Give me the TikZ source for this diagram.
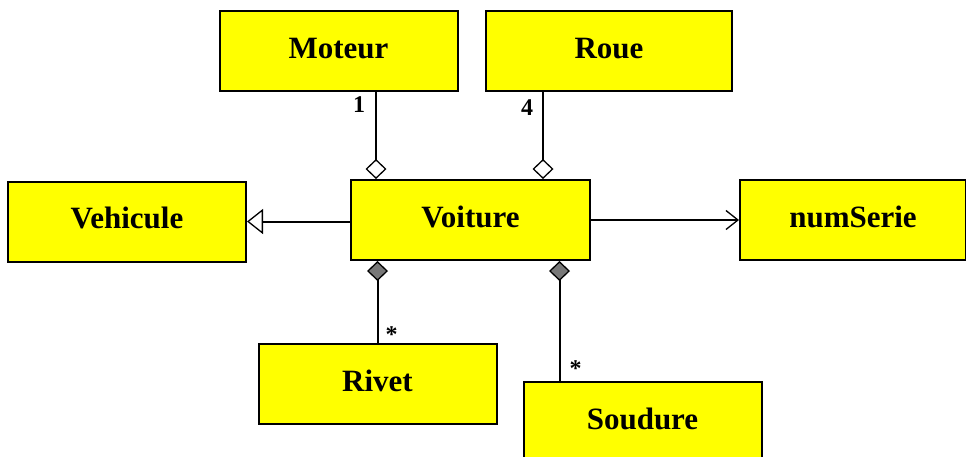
\documentclass[tikz,border=0pt]{standalone}
\usepackage{fontspec}
\setmainfont{Liberation Serif}
\usetikzlibrary{positioning, arrows.meta}
\definecolor{clsyellow}{RGB}{255,255,0}
\definecolor{diamgrey}{RGB}{120,120,120}
\definecolor{inkblack}{RGB}{0,0,0}

\begin{document}
\begin{tikzpicture}[
    x=1pt, y=-1pt,
    every node/.style={text=inkblack},
    cls/.style={draw=inkblack, line width=2pt, fill=clsyellow, minimum width=238pt, minimum height=80pt,
      inner sep=0pt, text height=21pt, text depth=7pt, font=\fontsize{31}{31}\selectfont\bfseries},
    mult/.style={inner sep=0pt, font=\fontsize{24}{24}\selectfont\bfseries},
    link/.style={draw=inkblack, line width=2pt},
    aggr/.style={link, -{Diamond[open, length=20pt, width=21pt, line width=1.3pt]}},
    comp/.style={link, -{Diamond[fill=diamgrey, length=20pt, width=21pt, line width=1.3pt]}},
    gen/.style={link, -{Triangle[open, length=16pt, width=25pt, line width=1.3pt]}},
    assoc/.style={link, -{Straight Barb[length=12pt, width=19pt, line width=1.3pt]}},
]
\useasboundingbox (0,0) rectangle (966,456);

% ---------------------------------------------------------------- centre ---
\node[cls, minimum width=239pt] (voiture) at (470.5,220) {Voiture};

% ------------------------------------------------------------------ parts ---
\node[cls, above=87pt of voiture, xshift=-132pt] (moteur) {Moteur};
\node[cls, above=87pt of voiture, xshift=138.5pt, minimum width=246pt] (roue) {Roue};

% ------------------------------------------------------ parent, attribute ---
\node[cls, left=103pt of voiture, yshift=-1.5pt] (vehicule) {Vehicule};
\node[cls, right=148pt of voiture, minimum width=226pt] (numserie) {numSerie};

% ------------------------------------------------------------ components ---
\node[cls, below=82pt of voiture, xshift=-93pt] (rivet) {Rivet};
\node[cls, below=120pt of voiture, xshift=172pt] (soudure) {Soudure};

% ----------------------------------------------------------- connectors ---
\coordinate (mfoot) at ([xshift=26pt]voiture.north west);
\coordinate (rfoot) at ([xshift=193pt]voiture.north west);
\coordinate (sfoot) at ([xshift=37pt]soudure.north west);

\draw[aggr] (mfoot |- moteur.south) -- node[mult, pos=0, below left=4pt and 10pt] {1} (mfoot);
\draw[aggr] (rfoot |- roue.south) -- node[mult, pos=0, below left=7pt and 9pt] {4} (rfoot);

\draw[gen] (voiture.west |- vehicule.east) -- (vehicule.east);
\draw[assoc] (voiture.east) -- (numserie.west);

\draw[comp] (rivet.north) -- node[mult, pos=0, above right=0pt and 7pt] {*} (rivet.north |- voiture.south);
\draw[comp] (sfoot) -- node[mult, pos=0, above right=4pt and 9pt] {*} (sfoot |- voiture.south);

\end{tikzpicture}
\end{document}
